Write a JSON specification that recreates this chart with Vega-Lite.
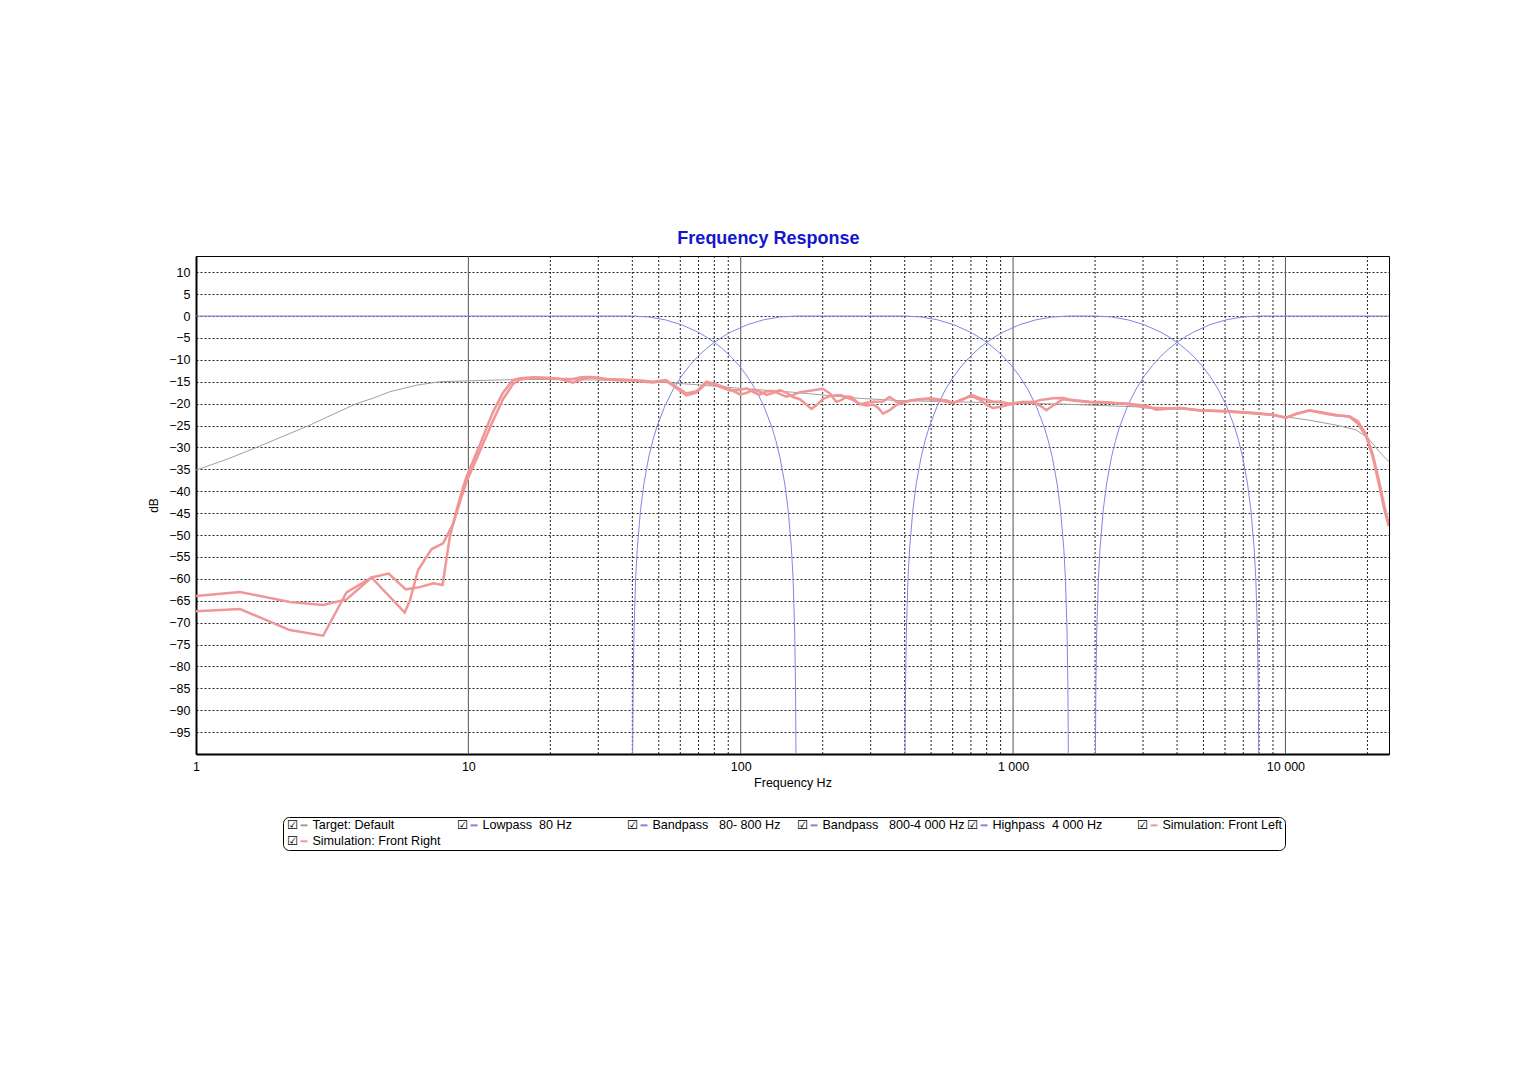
{
  "$schema": "https://vega.github.io/schema/vega-lite/v6.json",
  "width": 1193,
  "height": 498,
  "autosize": {"type": "none"},
  "padding": {"left": 196, "top": 256, "right": 139, "bottom": 326},
  "background": "white",
  "config": {
    "view": {"stroke": "#000", "strokeWidth": 1},
    "font": "Liberation Sans",
    "axisY": {"labelOverlap": false}
  },
  "title": {
    "text": "Frequency Response",
    "anchor": "middle",
    "frame": "bounds",
    "offset": 8,
    "font": "Liberation Sans",
    "fontSize": 18,
    "fontWeight": "bold",
    "color": "#1515d0"
  },
  "data": {"values": [
    {"s":"t","f":1,"db":-35.2},{"s":"t","f":1.3,"db":-32.7},{"s":"t","f":1.67,"db":-30.0},{"s":"t","f":2.1,"db":-27.4},{"s":"t","f":2.62,"db":-24.9},{"s":"t","f":3.2,"db":-22.4},{"s":"t","f":3.88,"db":-20.0},{"s":"t","f":4.5,"db":-18.7},{"s":"t","f":5.14,"db":-17.3},{"s":"t","f":5.8,"db":-16.5},{"s":"t","f":6.44,"db":-15.8},{"s":"t","f":7.85,"db":-15.0},{"s":"t","f":10,"db":-14.8},{"s":"t","f":15,"db":-14.5},{"s":"t","f":20,"db":-14.5},{"s":"t","f":40,"db":-14.7},{"s":"t","f":66,"db":-15.6},{"s":"t","f":99,"db":-16.5},{"s":"t","f":155,"db":-17.4},{"s":"t","f":273,"db":-18.8},{"s":"t","f":380,"db":-19.3},{"s":"t","f":1000,"db":-19.9},{"s":"t","f":1500,"db":-20.1},{"s":"t","f":3000,"db":-20.8},{"s":"t","f":5000,"db":-21.5},{"s":"t","f":8737,"db":-22.6},{"s":"t","f":10000,"db":-23.0},{"s":"t","f":12247,"db":-23.8},{"s":"t","f":15351,"db":-24.9},{"s":"t","f":18171,"db":-26.0},{"s":"t","f":20120,"db":-27.9},{"s":"t","f":22130,"db":-31.0},{"s":"t","f":24000,"db":-33.3},

    {"s":"lp","f":1,"db":0},{"s":"lp","f":40,"db":0},{"s":"lp","f":45.95,"db":-0.22},{"s":"lp","f":52.78,"db":-0.87},{"s":"lp","f":60.63,"db":-2},{"s":"lp","f":69.64,"db":-3.68},{"s":"lp","f":74.64,"db":-4.76},{"s":"lp","f":80,"db":-6.02},{"s":"lp","f":85.74,"db":-7.5},{"s":"lp","f":91.9,"db":-9.23},{"s":"lp","f":98.49,"db":-11.28},{"s":"lp","f":105.56,"db":-13.72},{"s":"lp","f":113.14,"db":-16.69},{"s":"lp","f":121.26,"db":-20.4},{"s":"lp","f":129.96,"db":-25.27},{"s":"lp","f":134.54,"db":-28.39},{"s":"lp","f":139.29,"db":-32.23},{"s":"lp","f":145.2,"db":-38.39},{"s":"lp","f":149.28,"db":-44.21},{"s":"lp","f":153.54,"db":-53.07},{"s":"lp","f":155.71,"db":-60.12},{"s":"lp","f":157.8,"db":-72.16},{"s":"lp","f":158.9,"db":-84.2},{"s":"lp","f":159.56,"db":-100.1},{"s":"lp","f":159.78,"db":-112.2},

    {"s":"bp1","f":40.06,"db":-112.2},{"s":"bp1","f":40.11,"db":-100.1},{"s":"bp1","f":40.28,"db":-84.2},{"s":"bp1","f":40.56,"db":-72.16},{"s":"bp1","f":41.12,"db":-60.12},{"s":"bp1","f":41.7,"db":-53.07},{"s":"bp1","f":42.87,"db":-44.21},{"s":"bp1","f":44.08,"db":-38.39},{"s":"bp1","f":45.95,"db":-32.23},{"s":"bp1","f":47.57,"db":-28.39},{"s":"bp1","f":49.24,"db":-25.27},{"s":"bp1","f":52.78,"db":-20.4},{"s":"bp1","f":56.57,"db":-16.69},{"s":"bp1","f":60.63,"db":-13.72},{"s":"bp1","f":64.98,"db":-11.28},{"s":"bp1","f":69.64,"db":-9.23},{"s":"bp1","f":74.64,"db":-7.5},{"s":"bp1","f":80,"db":-6.02},{"s":"bp1","f":85.74,"db":-4.76},{"s":"bp1","f":91.9,"db":-3.68},{"s":"bp1","f":105.56,"db":-2},{"s":"bp1","f":121.26,"db":-0.87},{"s":"bp1","f":139.29,"db":-0.22},{"s":"bp1","f":160,"db":0},
    {"s":"bp1","f":400,"db":0},{"s":"bp1","f":459.5,"db":-0.22},{"s":"bp1","f":527.8,"db":-0.87},{"s":"bp1","f":606.3,"db":-2},{"s":"bp1","f":696.4,"db":-3.68},{"s":"bp1","f":746.4,"db":-4.76},{"s":"bp1","f":800,"db":-6.02},{"s":"bp1","f":857.4,"db":-7.5},{"s":"bp1","f":919,"db":-9.23},{"s":"bp1","f":984.9,"db":-11.28},{"s":"bp1","f":1055.6,"db":-13.72},{"s":"bp1","f":1131.4,"db":-16.69},{"s":"bp1","f":1212.6,"db":-20.4},{"s":"bp1","f":1299.6,"db":-25.27},{"s":"bp1","f":1345.4,"db":-28.39},{"s":"bp1","f":1392.9,"db":-32.23},{"s":"bp1","f":1452,"db":-38.39},{"s":"bp1","f":1492.8,"db":-44.21},{"s":"bp1","f":1535.4,"db":-53.07},{"s":"bp1","f":1557.1,"db":-60.12},{"s":"bp1","f":1578,"db":-72.16},{"s":"bp1","f":1589,"db":-84.2},{"s":"bp1","f":1595.6,"db":-100.1},{"s":"bp1","f":1597.8,"db":-112.2},

    {"s":"bp2","f":400.6,"db":-112.2},{"s":"bp2","f":401.1,"db":-100.1},{"s":"bp2","f":402.8,"db":-84.2},{"s":"bp2","f":405.6,"db":-72.16},{"s":"bp2","f":411.2,"db":-60.12},{"s":"bp2","f":417,"db":-53.07},{"s":"bp2","f":428.7,"db":-44.21},{"s":"bp2","f":440.8,"db":-38.39},{"s":"bp2","f":459.5,"db":-32.23},{"s":"bp2","f":475.7,"db":-28.39},{"s":"bp2","f":492.4,"db":-25.27},{"s":"bp2","f":527.8,"db":-20.4},{"s":"bp2","f":565.7,"db":-16.69},{"s":"bp2","f":606.3,"db":-13.72},{"s":"bp2","f":649.8,"db":-11.28},{"s":"bp2","f":696.4,"db":-9.23},{"s":"bp2","f":746.4,"db":-7.5},{"s":"bp2","f":800,"db":-6.02},{"s":"bp2","f":857.4,"db":-4.76},{"s":"bp2","f":919,"db":-3.68},{"s":"bp2","f":1055.6,"db":-2},{"s":"bp2","f":1212.6,"db":-0.87},{"s":"bp2","f":1392.9,"db":-0.22},{"s":"bp2","f":1600,"db":0},
    {"s":"bp2","f":2000,"db":0},{"s":"bp2","f":2297.4,"db":-0.22},{"s":"bp2","f":2639,"db":-0.87},{"s":"bp2","f":3031.4,"db":-2},{"s":"bp2","f":3482.2,"db":-3.68},{"s":"bp2","f":3732.2,"db":-4.76},{"s":"bp2","f":4000,"db":-6.02},{"s":"bp2","f":4287,"db":-7.5},{"s":"bp2","f":4594.8,"db":-9.23},{"s":"bp2","f":4924.6,"db":-11.28},{"s":"bp2","f":5278,"db":-13.72},{"s":"bp2","f":5656.8,"db":-16.69},{"s":"bp2","f":6062.8,"db":-20.4},{"s":"bp2","f":6498,"db":-25.27},{"s":"bp2","f":6727.2,"db":-28.39},{"s":"bp2","f":6964.4,"db":-32.23},{"s":"bp2","f":7260.2,"db":-38.39},{"s":"bp2","f":7464.2,"db":-44.21},{"s":"bp2","f":7677,"db":-53.07},{"s":"bp2","f":7785.4,"db":-60.12},{"s":"bp2","f":7889.8,"db":-72.16},{"s":"bp2","f":7944.8,"db":-84.2},{"s":"bp2","f":7977.8,"db":-100.1},{"s":"bp2","f":7989,"db":-112.2},

    {"s":"hp","f":2002.8,"db":-112.2},{"s":"hp","f":2005.6,"db":-100.1},{"s":"hp","f":2014,"db":-84.2},{"s":"hp","f":2028,"db":-72.16},{"s":"hp","f":2056.2,"db":-60.12},{"s":"hp","f":2085,"db":-53.07},{"s":"hp","f":2143.6,"db":-44.21},{"s":"hp","f":2203.8,"db":-38.39},{"s":"hp","f":2297.4,"db":-32.23},{"s":"hp","f":2378.4,"db":-28.39},{"s":"hp","f":2462.2,"db":-25.27},{"s":"hp","f":2639,"db":-20.4},{"s":"hp","f":2828.4,"db":-16.69},{"s":"hp","f":3031.4,"db":-13.72},{"s":"hp","f":3249,"db":-11.28},{"s":"hp","f":3482.2,"db":-9.23},{"s":"hp","f":3732.2,"db":-7.5},{"s":"hp","f":4000,"db":-6.02},{"s":"hp","f":4287,"db":-4.76},{"s":"hp","f":4594.8,"db":-3.68},{"s":"hp","f":5278,"db":-2},{"s":"hp","f":6062.8,"db":-0.87},{"s":"hp","f":6964.4,"db":-0.22},{"s":"hp","f":8000,"db":0},{"s":"hp","f":24000,"db":0},

    {"s":"fl","f":1,"db":-63.9},{"s":"fl","f":1.45,"db":-63.0},{"s":"fl","f":2.21,"db":-65.3},{"s":"fl","f":2.93,"db":-66.0},{"s":"fl","f":3.57,"db":-64.7},{"s":"fl","f":4.41,"db":-59.7},{"s":"fl","f":5.1,"db":-58.8},{"s":"fl","f":5.89,"db":-62.4},{"s":"fl","f":6.63,"db":-61.9},{"s":"fl","f":7.43,"db":-61.0},{"s":"fl","f":8.04,"db":-61.4},{"s":"fl","f":8.55,"db":-50.4},{"s":"fl","f":9.05,"db":-44.3},{"s":"fl","f":9.57,"db":-39.0},{"s":"fl","f":9.85,"db":-36.7},{"s":"fl","f":11.0,"db":-29.5},{"s":"fl","f":12.3,"db":-22.0},{"s":"fl","f":13.4,"db":-17.5},{"s":"fl","f":14.6,"db":-14.6},{"s":"fl","f":15.5,"db":-14.2},{"s":"fl","f":17.3,"db":-14.0},{"s":"fl","f":19.5,"db":-14.1},{"s":"fl","f":21.7,"db":-14.3},{"s":"fl","f":24.2,"db":-14.4},{"s":"fl","f":26,"db":-14.0},{"s":"fl","f":27.9,"db":-13.9},{"s":"fl","f":30,"db":-14.1},{"s":"fl","f":32.2,"db":-14.4},{"s":"fl","f":36,"db":-14.5},{"s":"fl","f":40.3,"db":-14.6},{"s":"fl","f":44,"db":-14.8},{"s":"fl","f":47.7,"db":-15.0},{"s":"fl","f":53.1,"db":-14.6},{"s":"fl","f":58.1,"db":-16.2},{"s":"fl","f":63.2,"db":-17.7},{"s":"fl","f":68.8,"db":-17.2},{"s":"fl","f":74.8,"db":-15.0},{"s":"fl","f":81.4,"db":-15.6},{"s":"fl","f":91.1,"db":-16.7},{"s":"fl","f":99.2,"db":-17.9},{"s":"fl","f":105,"db":-17.6},{"s":"fl","f":110.9,"db":-16.8},{"s":"fl","f":117,"db":-17.2},{"s":"fl","f":124.3,"db":-18.0},{"s":"fl","f":131,"db":-17.6},{"s":"fl","f":139,"db":-16.9},{"s":"fl","f":147,"db":-17.5},{"s":"fl","f":155.6,"db":-18.5},{"s":"fl","f":165,"db":-19.0},{"s":"fl","f":174,"db":-20.2},{"s":"fl","f":182,"db":-21.2},{"s":"fl","f":191,"db":-20.2},{"s":"fl","f":200,"db":-19.0},{"s":"fl","f":212,"db":-18.3},{"s":"fl","f":224,"db":-18.1},{"s":"fl","f":234,"db":-18.1},{"s":"fl","f":245,"db":-18.6},{"s":"fl","f":255,"db":-19.0},{"s":"fl","f":273,"db":-20.0},{"s":"fl","f":290,"db":-20.5},{"s":"fl","f":306,"db":-20.2},{"s":"fl","f":320,"db":-21.0},{"s":"fl","f":333,"db":-22.3},{"s":"fl","f":352,"db":-21.5},{"s":"fl","f":373,"db":-20.3},{"s":"fl","f":395,"db":-19.8},{"s":"fl","f":417,"db":-19.3},{"s":"fl","f":455,"db":-19.0},{"s":"fl","f":494,"db":-19.0},{"s":"fl","f":530,"db":-19.2},{"s":"fl","f":569,"db":-19.6},{"s":"fl","f":601,"db":-19.9},{"s":"fl","f":650,"db":-19.0},{"s":"fl","f":703,"db":-18.3},{"s":"fl","f":760,"db":-19.2},{"s":"fl","f":800,"db":-20.3},{"s":"fl","f":843,"db":-21.0},{"s":"fl","f":900,"db":-20.7},{"s":"fl","f":971,"db":-20.2},{"s":"fl","f":1087,"db":-19.6},{"s":"fl","f":1217,"db":-20.0},{"s":"fl","f":1280,"db":-20.8},{"s":"fl","f":1324,"db":-21.5},{"s":"fl","f":1400,"db":-20.5},{"s":"fl","f":1523,"db":-19.0},{"s":"fl","f":1658,"db":-19.3},{"s":"fl","f":1909,"db":-19.7},{"s":"fl","f":2198,"db":-19.8},{"s":"fl","f":2603,"db":-20.0},{"s":"fl","f":3082,"db":-20.5},{"s":"fl","f":3354,"db":-21.4},{"s":"fl","f":3700,"db":-21.2},{"s":"fl","f":4083,"db":-21.0},{"s":"fl","f":4836,"db":-21.5},{"s":"fl","f":6059,"db":-21.7},{"s":"fl","f":7586,"db":-22.1},{"s":"fl","f":8981,"db":-22.5},{"s":"fl","f":10060,"db":-23.2},{"s":"fl","f":10948,"db":-22.4},{"s":"fl","f":12247,"db":-21.6},{"s":"fl","f":13708,"db":-22.0},{"s":"fl","f":15351,"db":-22.6},{"s":"fl","f":17174,"db":-23.0},{"s":"fl","f":18420,"db":-24.5},{"s":"fl","f":19781,"db":-27.5},{"s":"fl","f":20910,"db":-32.1},{"s":"fl","f":22130,"db":-38.9},{"s":"fl","f":23085,"db":-44.2},{"s":"fl","f":23940,"db":-48.0},

    {"s":"fr","f":1,"db":-67.4},{"s":"fr","f":1.45,"db":-66.9},{"s":"fr","f":2.21,"db":-71.7},{"s":"fr","f":2.93,"db":-73.0},{"s":"fr","f":3.57,"db":-63.1},{"s":"fr","f":4.41,"db":-59.7},{"s":"fr","f":5.84,"db":-67.7},{"s":"fr","f":6.1,"db":-64.9},{"s":"fr","f":6.54,"db":-58.0},{"s":"fr","f":7.33,"db":-53.2},{"s":"fr","f":8.08,"db":-51.9},{"s":"fr","f":8.8,"db":-47.4},{"s":"fr","f":9.44,"db":-41.3},{"s":"fr","f":9.85,"db":-37.8},{"s":"fr","f":11.0,"db":-31.0},{"s":"fr","f":12.3,"db":-24.0},{"s":"fr","f":13.4,"db":-19.0},{"s":"fr","f":14.6,"db":-15.5},{"s":"fr","f":15.5,"db":-14.5},{"s":"fr","f":17.3,"db":-14.1},{"s":"fr","f":19.5,"db":-14.2},{"s":"fr","f":21.7,"db":-14.4},{"s":"fr","f":24.2,"db":-15.2},{"s":"fr","f":26,"db":-14.5},{"s":"fr","f":27.9,"db":-14.0},{"s":"fr","f":30,"db":-14.2},{"s":"fr","f":32.2,"db":-14.5},{"s":"fr","f":36,"db":-14.7},{"s":"fr","f":40.3,"db":-14.7},{"s":"fr","f":44,"db":-15.0},{"s":"fr","f":47.7,"db":-15.2},{"s":"fr","f":53.1,"db":-14.8},{"s":"fr","f":58.1,"db":-16.5},{"s":"fr","f":63.2,"db":-18.1},{"s":"fr","f":68.8,"db":-17.5},{"s":"fr","f":74.8,"db":-15.3},{"s":"fr","f":81.4,"db":-15.9},{"s":"fr","f":91.1,"db":-17.0},{"s":"fr","f":99.2,"db":-16.9},{"s":"fr","f":105,"db":-16.5},{"s":"fr","f":110.9,"db":-17.3},{"s":"fr","f":117,"db":-18.0},{"s":"fr","f":124.3,"db":-17.2},{"s":"fr","f":131,"db":-17.1},{"s":"fr","f":139,"db":-17.8},{"s":"fr","f":147,"db":-18.4},{"s":"fr","f":155.6,"db":-18.0},{"s":"fr","f":165,"db":-17.4},{"s":"fr","f":182,"db":-17.0},{"s":"fr","f":200,"db":-16.6},{"s":"fr","f":212,"db":-17.6},{"s":"fr","f":224,"db":-19.6},{"s":"fr","f":234,"db":-19.2},{"s":"fr","f":245,"db":-18.4},{"s":"fr","f":255,"db":-18.5},{"s":"fr","f":273,"db":-20.2},{"s":"fr","f":290,"db":-19.8},{"s":"fr","f":306,"db":-19.6},{"s":"fr","f":333,"db":-19.5},{"s":"fr","f":352,"db":-18.5},{"s":"fr","f":373,"db":-19.6},{"s":"fr","f":395,"db":-19.7},{"s":"fr","f":417,"db":-19.4},{"s":"fr","f":455,"db":-19.0},{"s":"fr","f":494,"db":-18.8},{"s":"fr","f":530,"db":-19.0},{"s":"fr","f":569,"db":-19.3},{"s":"fr","f":601,"db":-19.8},{"s":"fr","f":650,"db":-19.2},{"s":"fr","f":703,"db":-18.0},{"s":"fr","f":760,"db":-18.8},{"s":"fr","f":843,"db":-19.5},{"s":"fr","f":900,"db":-19.6},{"s":"fr","f":971,"db":-20.0},{"s":"fr","f":1087,"db":-19.7},{"s":"fr","f":1217,"db":-19.5},{"s":"fr","f":1251,"db":-19.2},{"s":"fr","f":1324,"db":-19.0},{"s":"fr","f":1400,"db":-18.8},{"s":"fr","f":1523,"db":-18.7},{"s":"fr","f":1658,"db":-19.2},{"s":"fr","f":1909,"db":-19.6},{"s":"fr","f":2198,"db":-19.7},{"s":"fr","f":2603,"db":-20.1},{"s":"fr","f":3082,"db":-20.9},{"s":"fr","f":3354,"db":-21.0},{"s":"fr","f":3700,"db":-21.1},{"s":"fr","f":4083,"db":-21.0},{"s":"fr","f":4836,"db":-21.6},{"s":"fr","f":6059,"db":-21.8},{"s":"fr","f":7586,"db":-22.2},{"s":"fr","f":8981,"db":-22.6},{"s":"fr","f":10060,"db":-23.2},{"s":"fr","f":10948,"db":-22.3},{"s":"fr","f":12247,"db":-21.5},{"s":"fr","f":13708,"db":-22.2},{"s":"fr","f":15351,"db":-22.7},{"s":"fr","f":17174,"db":-22.9},{"s":"fr","f":18420,"db":-24.0},{"s":"fr","f":19781,"db":-27.0},{"s":"fr","f":20910,"db":-31.5},{"s":"fr","f":22130,"db":-38.0},{"s":"fr","f":23085,"db":-43.5},{"s":"fr","f":23940,"db":-47.3}
  ]},
  "encoding": {
    "x": {
      "field": "f",
      "type": "quantitative",
      "scale": {"type": "log", "domain": [1, 24000], "nice": false},
      "axis": {
        "values": [1, 10, 100, 1000, 10000],
        "labelExpr": "datum.value == 1000 ? '1\u00a0000' : datum.value == 10000 ? '10\u00a0000' : format(datum.value, 'd')",
        "labelFlush": false,
        "labelOverlap": false,
        "grid": false,
        "ticks": false,
        "domainColor": "#000",
        "domainWidth": 2,
        "labelFont": "Liberation Sans",
        "labelFontSize": 12.5,
        "labelColor": "#000",
        "labelPadding": 6,
        "titleFont": "Liberation Sans",
        "titleFontSize": 12.5,
        "titleFontWeight": "normal",
        "titleColor": "#000",
        "titlePadding": 4
      },
      "title": "Frequency Hz"
    }
  },
  "layer": [
    {
      "data": {"values": [{"f": 10}, {"f": 100}, {"f": 1000}, {"f": 10000}]},
      "mark": {"type": "rule", "color": "#555", "strokeWidth": 1}
    },
    {
      "data": {"values": [
        {"f": 20}, {"f": 30}, {"f": 40}, {"f": 50}, {"f": 60}, {"f": 70}, {"f": 80}, {"f": 90},
        {"f": 200}, {"f": 300}, {"f": 400}, {"f": 500}, {"f": 600}, {"f": 700}, {"f": 800}, {"f": 900},
        {"f": 2000}, {"f": 3000}, {"f": 4000}, {"f": 5000}, {"f": 6000}, {"f": 7000}, {"f": 8000}, {"f": 9000},
        {"f": 20000}
      ]},
      "mark": {"type": "rule", "color": "#222", "strokeWidth": 1, "strokeDash": [2, 2]}
    },
    {
      "encoding": {
        "y": {
          "field": "db",
          "type": "quantitative",
          "scale": {"domain": [-100, 13.7], "nice": false, "zero": false},
          "axis": {
            "values": [-95, -90, -85, -80, -75, -70, -65, -60, -55, -50, -45, -40, -35, -30, -25, -20, -15, -10, -5, 0, 5, 10],
            "labelOverlap": false,
            "grid": true,
            "gridColor": "#222",
            "gridDash": [2, 2],
            "gridWidth": 1,
            "ticks": false,
            "domainColor": "#000",
            "domainWidth": 2,
            "labelFont": "Liberation Sans",
            "labelFontSize": 12.5,
            "labelColor": "#000",
            "labelPadding": 6,
            "titleFont": "Liberation Sans",
            "titleFontSize": 12,
            "titleFontWeight": "normal",
            "titleColor": "#000",
            "titlePadding": 8
          },
          "title": "dB"
        },
        "stroke": {
          "field": "s",
          "type": "nominal",
          "scale": {
            "domain": ["t", "lp", "bp1", "bp2", "hp", "fl", "fr"],
            "range": ["#a0a0a0", "#8484e4", "#8484e4", "#8484e4", "#8484e4", "#f09696", "#f09696"]
          },
          "legend": {
            "orient": "none",
            "legendX": 87,
            "legendY": 561,
            "direction": "horizontal",
            "columns": 6,
            "gridAlign": "all",
            "columnPadding": -2,
            "rowPadding": 3,
            "padding": 2,
            "strokeColor": "#000",
            "cornerRadius": 6,
            "title": null,
            "symbolType": "M1.85,0L3.25,0",
            "symbolSize": 100,
            "symbolStrokeWidth": 2,
            "labelOffset": -10.5,
            "labelLimit": 400,
            "labelFont": "Liberation Sans, DejaVu Sans",
            "labelFontSize": 12.6,
            "labelColor": "#000",
            "labelExpr": "'\u2611\u00a0\u00a0\u00a0\u00a0' + (datum.value == 't' ? 'Target: Default' : datum.value == 'lp' ? 'Lowpass\u00a0\u00a080 Hz' : datum.value == 'bp1' ? 'Bandpass\u00a0\u00a0\u00a080-\u00a0800 Hz' : datum.value == 'bp2' ? 'Bandpass\u00a0\u00a0\u00a0800-4\u00a0000 Hz' : datum.value == 'hp' ? 'Highpass\u00a0\u00a04\u00a0000 Hz' : datum.value == 'fl' ? 'Simulation: Front Left\u00a0\u00a0\u00a0\u00a0\u00a0' : 'Simulation: Front Right')"
          }
        }
      },
      "layer": [
        {
          "transform": [{"filter": {"field": "s", "oneOf": ["t", "lp", "bp1", "bp2", "hp"]}}],
          "mark": {"type": "line", "strokeWidth": 1, "clip": true}
        },
        {
          "transform": [{"filter": {"field": "s", "oneOf": ["fl", "fr"]}}],
          "mark": {"type": "line", "strokeWidth": 2.5, "clip": true}
        }
      ]
    }
  ]
}
